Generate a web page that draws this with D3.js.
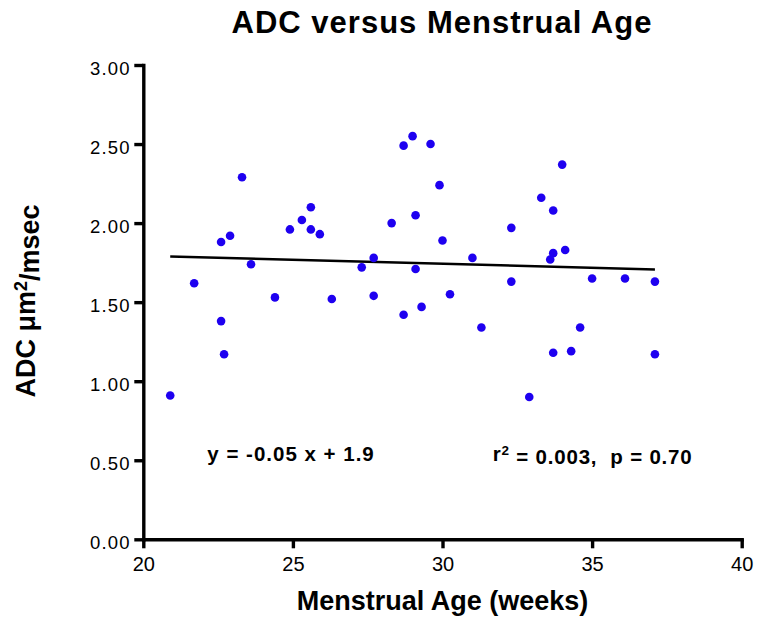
<!DOCTYPE html>
<html>
<head>
<meta charset="utf-8">
<script src="https://cdn.jsdelivr.net/npm/d3@7"></script>
<style>
  html, body { margin: 0; padding: 0; background: #fff; }
  svg { display: block; }
  text { font-family: "Liberation Sans", Arial, Helvetica, sans-serif; fill: #000; }
</style>
</head>
<body>
<svg id="chart" width="762" height="625"></svg>
<script>
// ---- Data ----
const ageWeeks = [
  21.7, 22.6, 22.6, 22.9, 23.3, 23.6, 24.4, 24.9, 25.3, 25.6,
  25.6, 25.9, 26.3, 27.3, 27.7, 27.7, 28.3, 28.7, 29.0, 29.6,
  29.9, 29.1, 30.0, 29.1, 28.7, 29.3, 30.25, 34.0, 33.3, 33.7,
  32.3, 31.0, 33.7, 33.6, 34.1, 32.3, 35.0, 36.1, 37.1, 31.3,
  34.6, 20.9, 22.7, 32.9, 33.7, 34.3, 37.1
];
const adcValues = [
  1.62, 1.38, 1.88, 1.92, 2.29, 1.74, 1.53, 1.96, 2.02, 2.10,
  1.96, 1.93, 1.52, 1.72, 1.78, 1.54, 2.00, 2.49, 2.55, 2.50,
  2.24, 2.05, 1.89, 1.71, 1.42, 1.47, 1.55, 2.37, 2.16, 2.08,
  1.97, 1.78, 1.81, 1.77, 1.83, 1.63, 1.65, 1.65, 1.63, 1.34,
  1.34, 0.91, 1.17, 0.90, 1.18, 1.19, 1.17
];
const xTicks = [20, 25, 30, 35, 40];
const yTicks = [0, 0.5, 1.0, 1.5, 2.0, 2.5, 3.0];
const xDomain = [20, 40];
const yDomain = [0, 3];
// regression line as drawn in the reference
const fitSlope = -0.0051;
const fitIntercept = 1.896;
const fitRange = [20.9, 37.1];

const titleText = "ADC versus Menstrual Age";
const xTitleText = "Menstrual Age (weeks)";
const eqText = "y = -0.05 x + 1.9";
const statText = " = 0.003,\u00a0 p = 0.70";

// ---- Layout ----
const svg = d3.select("#chart");
const mLeft = 143.3, mRight = 741.7, mTop = 65, mBottom = 539.3;

const x = d3.scaleLinear().domain(xDomain).range([mLeft, mRight]);
const y = d3.scaleLinear().domain(yDomain).range([mBottom, mTop]);

// Title
svg.append("text")
  .attr("x", 442).attr("y", 33.3)
  .attr("text-anchor", "middle")
  .style("font-size", "31px").style("font-weight", "bold")
  .style("letter-spacing", "1px")
  .text(titleText);

// X axis
const xAxis = svg.append("g")
  .attr("transform", `translate(0,${mBottom})`)
  .call(d3.axisBottom(x).tickValues(xTicks).tickFormat(d3.format("d"))
        .tickSize(9).tickSizeOuter(0).tickPadding(9));

// Y axis
const yAxis = svg.append("g")
  .attr("transform", `translate(${mLeft},0)`)
  .call(d3.axisLeft(y).tickValues(yTicks).tickFormat(d3.format(".2f"))
        .tickSize(9).tickSizeOuter(0).tickPadding(3.6));

[xAxis, yAxis].forEach(g => {
  g.select(".domain").attr("stroke", "#000").attr("stroke-width", 3.4)
    .attr("stroke-linecap", "square");
  g.selectAll(".tick line").attr("stroke", "#000").attr("stroke-width", 3.4);
  g.selectAll("text").attr("fill", "#000")
    .style("font-family", '"Liberation Sans", Arial, sans-serif');
});
xAxis.selectAll("text").style("font-size", "20px");
yAxis.selectAll("text").style("font-size", "18.5px").style("letter-spacing", "1.2px")
  .attr("dy", "0.5em");

// Axis titles
svg.append("text")
  .attr("x", (mLeft + mRight) / 2).attr("y", 610)
  .attr("text-anchor", "middle")
  .style("font-size", "27px").style("font-weight", "bold")
  .text(xTitleText);

const yTitle = svg.append("text")
  .attr("transform", "translate(35,301) rotate(-90)")
  .attr("text-anchor", "middle")
  .style("font-size", "27px").style("font-weight", "bold");
yTitle.append("tspan").text("ADC \u03bcm");
yTitle.append("tspan").attr("dy", "-0.45em").style("font-size", "18px").text("2");
yTitle.append("tspan").attr("dy", "0.45em").text("/msec");

// Regression line
const fitData = fitRange.map(v => ({ xv: v, yv: fitIntercept + fitSlope * v }));
svg.append("path")
  .datum(fitData)
  .attr("fill", "none").attr("stroke", "#000").attr("stroke-width", 2.5)
  .attr("d", d3.line().x(d => x(d.xv)).y(d => y(d.yv)));

// Points
const points = ageWeeks.map((a, i) => ({ a, v: adcValues[i] }));
svg.append("g").selectAll("circle").data(points).join("circle")
  .attr("cx", d => x(d.a)).attr("cy", d => y(d.v))
  .attr("r", 4.3).attr("fill", "#1e00f0");

// Annotations
svg.append("text")
  .attr("x", 207.3).attr("y", 461)
  .style("font-size", "20.5px").style("font-weight", "bold")
  .style("letter-spacing", "1px")
  .text(eqText);

const stat = svg.append("text")
  .attr("x", 492.7).attr("y", 461)
  .style("font-size", "20.5px").style("font-weight", "bold")
  .style("letter-spacing", "0.8px");
stat.append("tspan").text("r");
stat.append("tspan").attr("dy", "-0.45em").style("font-size", "13.5px").text("2");
stat.append("tspan").attr("dy", "0.45em").text(statText);
</script>
</body>
</html>
